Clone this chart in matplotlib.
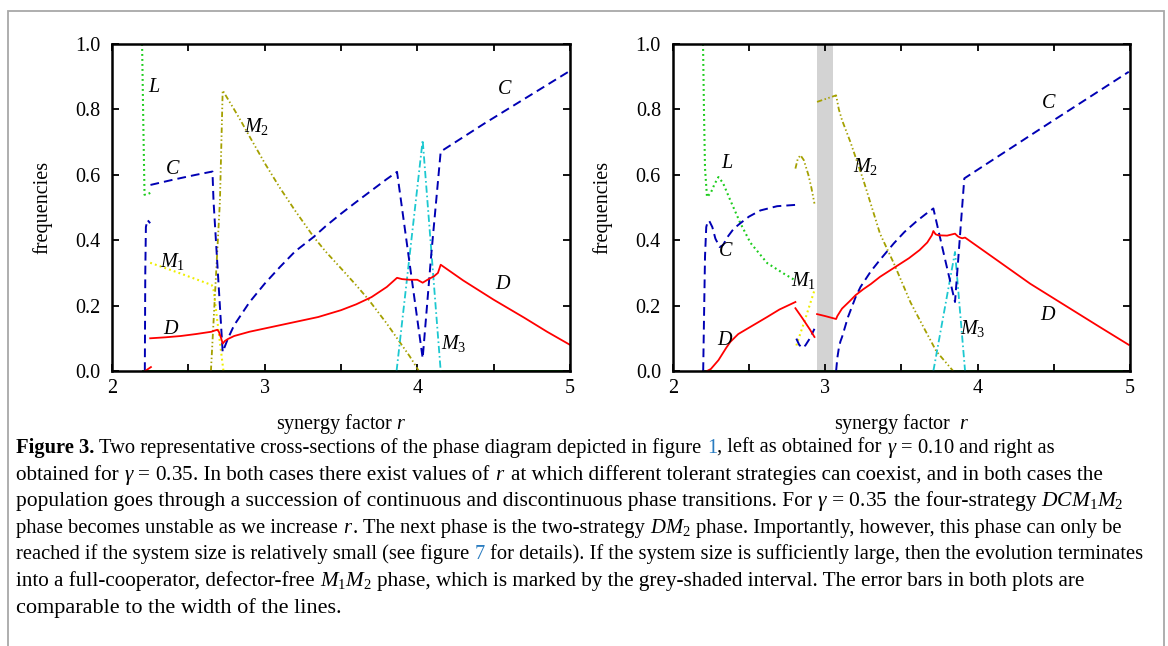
import matplotlib
matplotlib.use('Agg')
import matplotlib.pyplot as plt
from matplotlib.patches import Rectangle

plt.rcParams['font.family'] = ['Liberation Serif', 'DejaVu Serif']
plt.rcParams['mathtext.fontset'] = 'custom'
plt.rcParams['mathtext.rm'] = 'Liberation Serif'
plt.rcParams['mathtext.it'] = 'Liberation Serif:italic'
plt.rcParams['mathtext.bf'] = 'Liberation Serif:bold'

# ---------------- data: left panel (gamma = 0.10) ----------------
L_A_R = [2.197, 2.205, 2.213, 2.230, 2.252]
L_A_Y = [1.000, 0.760, 0.539, 0.540, 0.545]

C_A_R1 = [2.215, 2.218, 2.222, 2.232, 2.250]
C_A_Y1 = [0.000, 0.300, 0.440, 0.462, 0.452]
C_A_R2 = [2.252, 2.400, 2.550, 2.658, 2.665, 2.725, 2.760, 2.800, 2.900, 3.000,
          3.100, 3.200, 3.321, 3.400, 3.500, 3.600, 3.700, 3.800, 3.867, 3.950,
          4.035, 4.090, 4.153, 4.443, 5.000]
C_A_Y2 = [0.569, 0.585, 0.600, 0.610, 0.520, 0.058, 0.100, 0.140, 0.210, 0.267,
          0.318, 0.366, 0.410, 0.443, 0.481, 0.517, 0.552, 0.587, 0.609, 0.327,
          0.039, 0.350, 0.671, 0.758, 0.918]

D_A_R1 = [2.217, 2.255]
D_A_Y1 = [0.000, 0.012]
D_A_R2 = [2.250, 2.350, 2.450, 2.550, 2.650, 2.675, 2.690, 2.700, 2.715, 2.725,
          2.740, 2.760, 2.800, 2.900, 3.000, 3.100, 3.200, 3.350, 3.500, 3.600,
          3.700, 3.800, 3.867, 3.900, 3.950, 4.000, 4.035, 4.070, 4.110, 4.135,
          4.153, 4.300, 4.500, 4.700, 4.850, 5.000]
D_A_Y2 = [0.100, 0.103, 0.107, 0.113, 0.120, 0.124, 0.126, 0.120, 0.100, 0.084,
          0.092, 0.098, 0.107, 0.120, 0.130, 0.140, 0.150, 0.165, 0.186, 0.204,
          0.226, 0.257, 0.285, 0.281, 0.279, 0.279, 0.270, 0.280, 0.290, 0.300,
          0.325, 0.277, 0.218, 0.163, 0.120, 0.080]

M1_A_R = [2.250, 2.450, 2.653, 2.665, 2.730]
M1_A_Y = [0.331, 0.298, 0.263, 0.248, 0.000]

M2_A_R = [2.648, 2.707, 2.725, 2.800, 2.850, 2.900, 3.000, 3.100, 3.200, 3.321,
          3.400, 3.500, 3.600, 3.681, 3.800, 3.875, 3.950, 4.010]
M2_A_Y = [0.000, 0.520, 0.858, 0.800, 0.760, 0.718, 0.636, 0.560, 0.490, 0.410,
          0.365, 0.314, 0.262, 0.218, 0.145, 0.095, 0.045, 0.000]

M3_A_R = [3.864, 4.035, 4.153]
M3_A_Y = [0.000, 0.706, 0.000]

# ---------------- data: right panel (gamma = 0.35) ----------------
L_B_R = [2.199, 2.205, 2.212, 2.225, 2.250, 2.275, 2.300, 2.330, 2.378, 2.444,
         2.510, 2.620, 2.728, 2.805]
L_B_Y = [1.000, 0.800, 0.620, 0.532, 0.545, 0.572, 0.593, 0.575, 0.522, 0.452,
         0.392, 0.330, 0.298, 0.277]

C_B_R1 = [2.200, 2.205, 2.212, 2.220, 2.230, 2.240, 2.260, 2.280, 2.308, 2.330,
          2.360, 2.400, 2.444, 2.500, 2.575, 2.685, 2.805]
C_B_Y1 = [0.000, 0.150, 0.350, 0.440, 0.458, 0.459, 0.440, 0.405, 0.379, 0.385,
          0.410, 0.435, 0.452, 0.472, 0.491, 0.504, 0.508]
C_B_R2 = [2.811, 2.830, 2.849, 2.870, 2.900, 2.930]
C_B_Y2 = [0.099, 0.080, 0.071, 0.078, 0.100, 0.129]
C_B_R3 = [3.072, 3.080, 3.090, 3.100, 3.111, 3.150, 3.200, 3.232, 3.300, 3.360,
          3.450, 3.520, 3.600, 3.660, 3.710, 3.780, 3.852, 3.913, 4.450, 4.992]
C_B_Y3 = [0.000, 0.040, 0.070, 0.090, 0.104, 0.165, 0.226, 0.257, 0.305, 0.340,
          0.390, 0.425, 0.458, 0.480, 0.497, 0.355, 0.211, 0.589, 0.752, 0.915]

D_B_R1 = [2.225, 2.250, 2.300, 2.350, 2.378, 2.430, 2.488, 2.550, 2.619, 2.700, 2.805]
D_B_Y1 = [0.000, 0.006, 0.033, 0.070, 0.089, 0.113, 0.129, 0.146, 0.165, 0.188, 0.211]
D_B_R2 = [2.805, 2.850, 2.900, 2.930]
D_B_Y2 = [0.192, 0.162, 0.127, 0.104]
D_B_R3 = [2.947, 3.000, 3.072, 3.080, 3.100, 3.111, 3.160, 3.200, 3.250, 3.300,
          3.360, 3.450, 3.550, 3.620, 3.670, 3.700, 3.710, 3.725, 3.743, 3.800,
          3.852, 3.870, 3.885, 3.900, 3.918, 4.100, 4.345, 4.600, 4.800, 4.992]
D_B_Y3 = [0.174, 0.168, 0.159, 0.168, 0.183, 0.191, 0.213, 0.232, 0.250, 0.266,
          0.288, 0.315, 0.345, 0.370, 0.393, 0.415, 0.428, 0.418, 0.415, 0.414,
          0.420, 0.412, 0.408, 0.406, 0.408, 0.348, 0.267, 0.193, 0.135, 0.080]

M1_B_R = [2.811, 2.870, 2.930]
M1_B_Y = [0.078, 0.160, 0.247]

M2_B_R1 = [2.805, 2.820, 2.838, 2.860, 2.890, 2.910, 2.930]
M2_B_Y1 = [0.619, 0.648, 0.660, 0.645, 0.600, 0.560, 0.512]
M2_B_R2 = [2.947, 3.072, 3.090, 3.111, 3.166, 3.250, 3.360, 3.450, 3.560, 3.650,
           3.730, 3.840]
M2_B_Y2 = [0.823, 0.843, 0.800, 0.767, 0.700, 0.585, 0.420, 0.330, 0.210, 0.130,
           0.060, 0.000]

M3_B_R = [3.710, 3.852, 3.918]
M3_B_Y = [0.000, 0.364, 0.000]

BAND_B = [2.947, 3.052]
ZERO_R = [2.200, 5.000]
ZERO_Y = [0.0, 0.0]

XTICKS = [2, 2.5, 3, 3.5, 4, 4.5, 5]
XTICKLABELS = ['2', '', '3', '', '4', '', '5']
YTICKS = [0.0, 0.2, 0.4, 0.6, 0.8, 1.0]
YTICKLABELS = ['0.0', '0.2', '0.4', '0.6', '0.8', '1.0']

# ---------------- styles ----------------
COL_C = '#0000b4'
COL_D = '#ff0000'
COL_L = '#1ccc1c'
COL_M1 = '#eeee00'
COL_M2 = '#a4a000'
COL_M3 = '#1cc8d0'
COL_ZERO = '#007000'

ST_C = dict(color=COL_C, lw=1.4, ls=(0, (4.5, 2.6)))
ST_D = dict(color=COL_D, lw=1.3, ls='-')
ST_L = dict(color=COL_L, lw=1.5, ls=(0, (0.9, 1.5)))
ST_M1 = dict(color=COL_M1, lw=1.5, ls=(0, (0.9, 1.5)))
ST_M2 = dict(color=COL_M2, lw=1.3, ls=(0, (3.0, 1.4, 0.8, 1.4, 0.8, 1.4)))
ST_M3 = dict(color=COL_M3, lw=1.3, ls=(0, (4.0, 1.6, 0.9, 1.6)))

W, H = 1168, 646
fig = plt.figure(figsize=(W / 100, H / 100), dpi=100)

# outer frame
fig.patches.append(Rectangle((8 / W, -0.05), (1164 - 8) / W, 1.05 - 11 / H,
                             transform=fig.transFigure, fill=False,
                             edgecolor='#a8a8a8', lw=1.3))


def make_axes(x0, x1, y0, y1):
    return fig.add_axes([x0 / W, 1 - y1 / H, (x1 - x0) / W, (y1 - y0) / H])


def style_axes(ax, xlabel):
    ax.set_xlim(2, 5)
    ax.set_ylim(0, 1)
    ax.set_xticks(XTICKS)
    ax.set_xticklabels(XTICKLABELS)
    ax.set_yticks(YTICKS)
    ax.set_yticklabels(YTICKLABELS)
    ax.tick_params(direction='in', top=True, right=True, length=5, width=1.3,
                   labelsize=14.5, colors='black')
    ax.tick_params(axis='x', pad=6)
    ax.tick_params(axis='y', pad=8.5)
    for s in ax.spines.values():
        s.set_linewidth(1.8)
        s.set_zorder(5)
    ax.set_ylabel('frequencies', fontsize=14.5, va='center')
    ax.yaxis.set_label_coords(-70 / 458, 0.5)
    ax.set_xlabel(xlabel, fontsize=14.5, va='center')
    ax.xaxis.set_label_coords(0.5, -53 / 327)


def lab(ax, x, y, s):
    ax.text(x, y, s, fontsize=14.5, ha='center', va='center', zorder=6)


# ---------------- left panel ----------------
axA = make_axes(112, 570, 44, 371)
style_axes(axA, 'synergy factor $r$')
axA.plot(ZERO_R, ZERO_Y, color=COL_ZERO, lw=1.4, zorder=1)
axA.plot(L_A_R, L_A_Y, **ST_L)
axA.plot(M1_A_R, M1_A_Y, **ST_M1)
axA.plot(M2_A_R, M2_A_Y, **ST_M2)
axA.plot(M3_A_R, M3_A_Y, **ST_M3)
axA.plot(C_A_R1, C_A_Y1, **ST_C)
axA.plot(C_A_R2, C_A_Y2, **ST_C)
axA.plot(D_A_R1, D_A_Y1, **ST_D)
axA.plot(D_A_R2, D_A_Y2, **ST_D)
lab(axA, 2.275, 0.867, '$L$')
lab(axA, 2.40, 0.615, '$C$')
lab(axA, 2.95, 0.747, '$M_2$')
lab(axA, 2.40, 0.336, '$M_1$')
lab(axA, 2.39, 0.127, '$D$')
lab(axA, 4.57, 0.86, '$C$')
lab(axA, 4.56, 0.263, '$D$')
lab(axA, 4.24, 0.085, '$M_3$')

# ---------------- right panel ----------------
axB = make_axes(672.7, 1130, 44, 371)
style_axes(axB, 'synergy factor  $r$')
axB.axvspan(BAND_B[0], BAND_B[1], color='#d3d3d3', lw=0, zorder=0.5)
axB.plot(ZERO_R, ZERO_Y, color=COL_ZERO, lw=1.4, zorder=1)
axB.plot(L_B_R, L_B_Y, **ST_L)
axB.plot(M1_B_R, M1_B_Y, **ST_M1)
axB.plot(M2_B_R1, M2_B_Y1, **ST_M2)
axB.plot(M2_B_R2, M2_B_Y2, **ST_M2)
axB.plot(M3_B_R, M3_B_Y, **ST_M3)
axB.plot(C_B_R1, C_B_Y1, **ST_C)
axB.plot(C_B_R2, C_B_Y2, **ST_C)
axB.plot(C_B_R3, C_B_Y3, **ST_C)
axB.plot(D_B_R1, D_B_Y1, **ST_D)
axB.plot(D_B_R2, D_B_Y2, **ST_D)
axB.plot(D_B_R3, D_B_Y3, **ST_D)
lab(axB, 2.357, 0.634, '$L$')
lab(axB, 2.346, 0.364, '$C$')
lab(axB, 2.346, 0.094, '$D$')
lab(axB, 2.86, 0.277, '$M_1$')
lab(axB, 3.264, 0.624, '$M_2$')
lab(axB, 3.97, 0.13, '$M_3$')
lab(axB, 4.465, 0.171, '$D$')
lab(axB, 4.465, 0.818, '$C$')

# ---------------- caption ----------------
N = {}
B = {'fontweight': 'bold'}
LINK = {'color': '#2a7cc0'}
SP = None

CAPTION = [
    ([('Figure 3.', B), SP, ('Two representative cross-sections of the phase diagram depicted in figure', N),
      SP, ('1', LINK), (', left as obtained for', N), SP, (r'$\gamma\,=\,0.10$', N), SP,
      ('and right as', N)], 1050),
    ([('obtained for', N), SP, (r'$\gamma\,=\,0.35$', N), ('. In both cases there exist values of', N), SP,
      ('$r$', N), SP, ('at which different tolerant strategies can coexist, and in both cases the', N)], 1100),
    ([('population goes through a succession of continuous and discontinuous phase transitions. For', N), SP,
      (r'$\gamma\,=\,0.35$', N), SP, ('the four-strategy', N), SP, ('$DCM_1M_2$', N)], 1118),
    ([('phase becomes unstable as we increase', N), SP, ('$r$', N),
      ('. The next phase is the two-strategy', N), SP, ('$DM_2$', N), SP,
      ('phase. Importantly, however, this phase can only be', N)], 1125),
    ([('reached if the system size is relatively small (see figure', N), SP, ('7', LINK), SP,
      ('for details). If the system size is sufficiently large, then the evolution terminates', N)], 1140),
    ([('into a full-cooperator, defector-free', N), SP, ('$M_1M_2$', N), SP,
      ('phase, which is marked by the grey-shaded interval. The error bars in both plots are', N)], 1080),
    ([('comparable to the width of the lines.', N)], 340),
]
LINE_Y0 = 448
LINE_DY = 26.6

fig.canvas.draw()
renderer = fig.canvas.get_renderer()


def caption_line(segs, yc, x0, x1):
    base = 13.0
    items = []
    for s in segs:
        if s is None:
            items.append(None)
        else:
            txt, kw = s
            items.append(fig.text(0, 1 - (yc + 5) / H, txt, ha='left', va='baseline',
                                  fontsize=base, **kw))

    def measure(fs):
        ws = []
        for t in items:
            if t is None:
                ws.append(0.25 * fs * 100 / 72)
            else:
                t.set_fontsize(fs)
                ws.append(t.get_window_extent(renderer).width)
        return ws

    ws = measure(base)
    fs = base * (x1 - x0) / sum(ws)
    ws = measure(fs)
    x = x0
    for t, w in zip(items, ws):
        if t is not None:
            t.set_x(x / W)
        x += w


for i, (segs, xend) in enumerate(CAPTION):
    caption_line(segs, LINE_Y0 + i * LINE_DY, 16, xend)

fig.savefig('out.png', dpi=100)
